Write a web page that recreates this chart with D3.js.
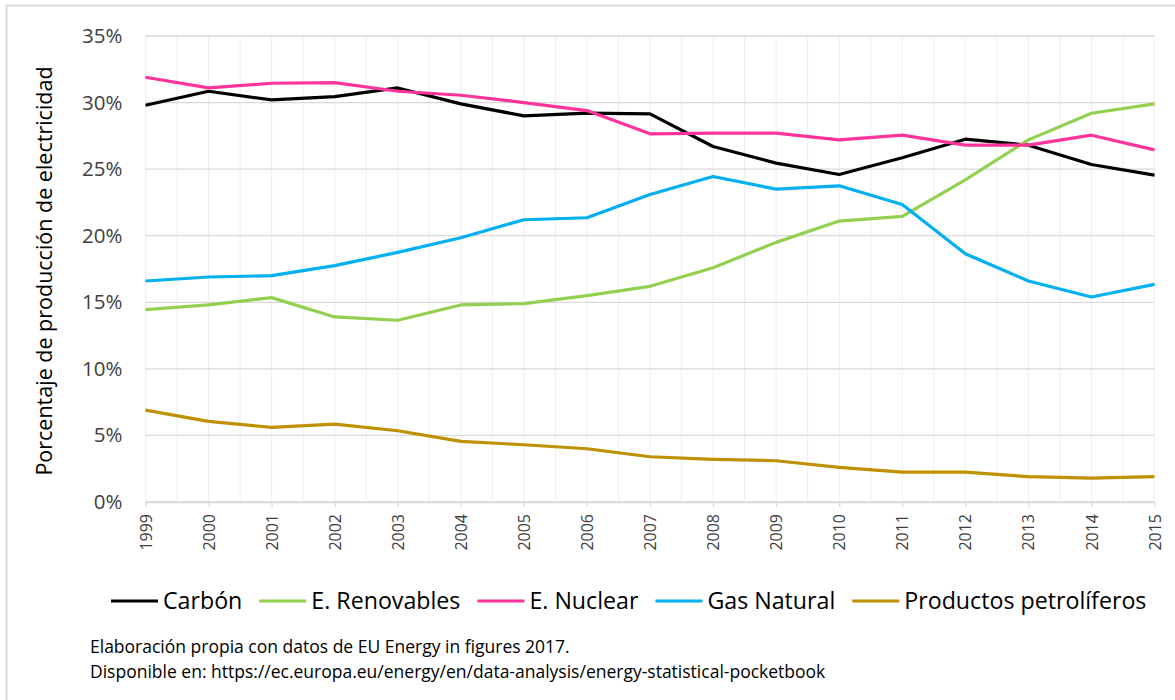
<!DOCTYPE html>
<html>
<head>
<meta charset="utf-8">
<script src="https://cdn.jsdelivr.net/npm/d3@7"></script>
<style>
  body { margin:0; background:#fff; }
  svg { font-family: "Open Sans", "Noto Sans", sans-serif; }
</style>
</head>
<body>
<div id="canvas"></div>
<script>
// data (percent of electricity production)
var years = [1999,2000,2001,2002,2003,2004,2005,2006,2007,2008,2009,2010,2011,2012,2013,2014,2015];
var carbon     = [29.8,30.85,30.2,30.45,31.1,29.9,29.0,29.2,29.15,26.7,25.45,24.6,25.85,27.25,26.8,25.35,24.55];
var renovables = [14.45,14.8,15.35,13.9,13.65,14.8,14.9,15.5,16.2,17.6,19.5,21.1,21.45,24.2,27.2,29.2,29.9];
var nuclear    = [31.9,31.1,31.45,31.5,30.85,30.55,30.0,29.4,27.65,27.7,27.7,27.2,27.55,26.8,26.8,27.55,26.45];
var gas        = [16.6,16.9,17.0,17.75,18.75,19.85,21.2,21.35,23.1,24.45,23.5,23.75,22.35,18.65,16.6,15.4,16.35];
var petroleo   = [6.9,6.05,5.6,5.85,5.35,4.55,4.3,4.0,3.4,3.2,3.1,2.6,2.25,2.25,1.9,1.8,1.9];

var seriesNames  = ['Carbón','E. Renovables','E. Nuclear','Gas Natural','Productos petrolíferos'];
var seriesValues = [carbon, renovables, nuclear, gas, petroleo];
var seriesColors = ['#000000','#92d050','#ff3399','#00b0f0','#bf9000'];
var yTicks = [0,5,10,15,20,25,30,35];
var note = ['Elaboración propia con datos de EU Energy in figures 2017.',
            'Disponible en: https://ec.europa.eu/energy/en/data-analysis/energy-statistical-pocketbook'];

var W = 1175, H = 700;
var m = {t:36, r:20, b:198, l:145.5};
var w = 1154.5 - m.l, h = 502 - m.t;

var svg = d3.select('#canvas').append('svg')
    .attr('width', W).attr('height', H);

// outer frame
svg.append('rect')
    .attr('x', 6.5).attr('y', 5.5)
    .attr('width', W + 10).attr('height', H + 10)
    .attr('fill', 'none').attr('stroke', '#d9d9d9').attr('stroke-width', 2);

var plot = svg.append('g').attr('transform', 'translate(' + m.l + ',' + m.t + ')');

var scaleX = d3.scaleLinear().domain([1999, 2015]).range([0, w]);
var scaleY = d3.scaleLinear().domain([0, 35]).range([h, 0]);

// vertical gridlines every half year
var halfYears = d3.range(1999, 2015.01, 0.5);
plot.selectAll('.vgrid').data(halfYears).enter().append('line')
    .attr('class', 'vgrid')
    .attr('x1', function(d){ return scaleX(d); })
    .attr('x2', function(d){ return scaleX(d); })
    .attr('y1', 0).attr('y2', h)
    .attr('stroke', '#eeeeee').attr('stroke-width', 1);

// horizontal gridlines
plot.selectAll('.hgrid').data(yTicks).enter().append('line')
    .attr('class', 'hgrid')
    .attr('x1', 0).attr('x2', w)
    .attr('y1', function(d){ return scaleY(d); })
    .attr('y2', function(d){ return scaleY(d); })
    .attr('stroke', '#d9d9d9').attr('stroke-width', 1.3);

// y axis labels
var axisY = d3.axisLeft(scaleY).tickValues(yTicks)
    .tickFormat(function(d){ return d + '%'; }).tickSize(0).tickPadding(23);
var gy = plot.append('g').call(axisY);
gy.select('.domain').remove();
gy.selectAll('text').attr('fill', '#404040').style('font-size', '20.5px')
    .style('font-family', '"Open Sans", sans-serif');

// x axis
var axisX = d3.axisBottom(scaleX).tickValues(years)
    .tickFormat(d3.format('d')).tickSize(5).tickSizeOuter(0);
var gx = plot.append('g').attr('transform', 'translate(0,' + h + ')').call(axisX);
gx.select('.domain').attr('stroke', '#d9d9d9').attr('stroke-width', 1.3);
gx.selectAll('.tick line').attr('stroke', '#d9d9d9').attr('stroke-width', 1.3);
gx.selectAll('text')
    .attr('fill', '#404040').style('font-size', '16px')
    .style('font-family', '"Open Sans", sans-serif')
    .attr('transform', 'rotate(-90)')
    .attr('text-anchor', 'end')
    .attr('x', -12).attr('y', 0).attr('dy', '0.35em');

// y title
svg.append('text')
    .attr('transform', 'translate(52,' + (m.t + h / 2 + 2) + ') rotate(-90)')
    .attr('text-anchor', 'middle')
    .style('font-size', '21.5px').attr('fill', '#000')
    .text('Porcentaje de producción de electricidad');

// lines
var line = d3.line()
    .x(function(d, i){ return scaleX(years[i]); })
    .y(function(d){ return scaleY(d); });

plot.selectAll('.serie').data(seriesValues).enter().append('path')
    .attr('class', 'serie')
    .attr('d', line)
    .attr('fill', 'none')
    .attr('stroke', function(d, i){ return seriesColors[i]; })
    .attr('stroke-width', 3.2)
    .attr('stroke-linejoin', 'round');

// legend
var legend = svg.append('g').attr('transform', 'translate(0,601)');
var lx = 111;
seriesNames.forEach(function(name, i){
  var g = legend.append('g');
  g.append('line').attr('x1', lx).attr('x2', lx + 47).attr('y1', 0).attr('y2', 0)
      .attr('stroke', seriesColors[i]).attr('stroke-width', 3.2);
  var t = g.append('text').attr('x', lx + 52).attr('y', 0).attr('dy', '0.35em')
      .style('font-size', '23.2px').attr('fill', '#000').text(name);
  lx = lx + 52 + t.node().getComputedTextLength() + 17;
});

// note
svg.selectAll('.note').data(note).enter().append('text')
    .attr('class', 'note')
    .attr('x', 90)
    .attr('y', function(d, i){ return 653 + i * 25; })
    .style('font-size', '17.5px').attr('fill', '#000')
    .text(function(d){ return d; });
</script>
</body>
</html>
